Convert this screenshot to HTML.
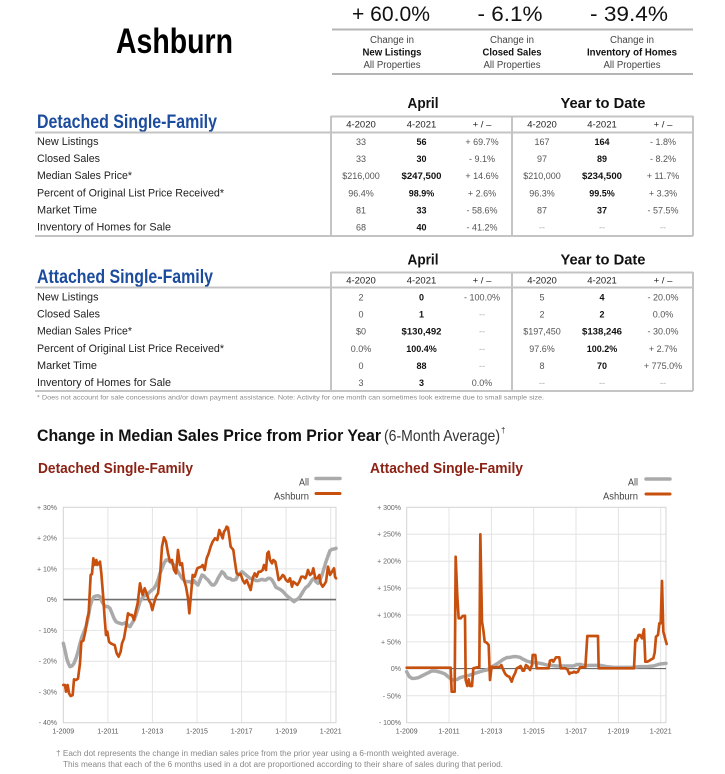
<!DOCTYPE html>
<html><head><meta charset="utf-8"><style>
html,body{margin:0;padding:0;background:#fff;}
body{width:725px;height:774px;overflow:hidden;}
svg{display:block;font-family:"Liberation Sans",Arial,sans-serif;}
</style></head><body>
<svg width="725" height="774" viewBox="0 0 725 774" xmlns="http://www.w3.org/2000/svg">
<rect width="725" height="774" fill="#fff"/>
<!-- Title -->
<text x="116" y="53" font-size="35" font-weight="bold" fill="#000" textLength="117" lengthAdjust="spacingAndGlyphs">Ashburn</text>
<!-- Top stats -->
<g fill="#111" font-size="21" text-anchor="middle">
<text x="391" y="21" textLength="78" lengthAdjust="spacingAndGlyphs">+ 60.0%</text>
<text x="510" y="21" textLength="65" lengthAdjust="spacingAndGlyphs">- 6.1%</text>
<text x="629" y="21" textLength="78" lengthAdjust="spacingAndGlyphs">- 39.4%</text>
</g>
<line x1="332" y1="29.5" x2="693" y2="29.5" stroke="#b5b5b5" stroke-width="2"/>
<g font-size="10" text-anchor="middle" fill="#444">
<text x="392" y="43" textLength="44" lengthAdjust="spacingAndGlyphs">Change in</text>
<text x="392" y="55.5" font-weight="bold" fill="#111" textLength="59" lengthAdjust="spacingAndGlyphs">New Listings</text>
<text x="392" y="68" textLength="57" lengthAdjust="spacingAndGlyphs">All Properties</text>
<text x="512" y="43" textLength="44" lengthAdjust="spacingAndGlyphs">Change in</text>
<text x="512" y="55.5" font-weight="bold" fill="#111" textLength="59" lengthAdjust="spacingAndGlyphs">Closed Sales</text>
<text x="512" y="68" textLength="57" lengthAdjust="spacingAndGlyphs">All Properties</text>
<text x="632" y="43" textLength="44" lengthAdjust="spacingAndGlyphs">Change in</text>
<text x="632" y="55.5" font-weight="bold" fill="#111" textLength="90" lengthAdjust="spacingAndGlyphs">Inventory of Homes</text>
<text x="632" y="68" textLength="57" lengthAdjust="spacingAndGlyphs">All Properties</text>
</g>
<line x1="332" y1="74" x2="693" y2="74" stroke="#b5b5b5" stroke-width="2"/>

<!-- TABLE 1 -->
<g font-size="15" font-weight="bold" fill="#111" text-anchor="middle">
<text x="423" y="108" textLength="31" lengthAdjust="spacingAndGlyphs">April</text>
<text x="603" y="108" textLength="85" lengthAdjust="spacingAndGlyphs">Year to Date</text>
</g>
<text x="37" y="128" font-size="19" font-weight="bold" fill="#1c4c9e" textLength="180" lengthAdjust="spacingAndGlyphs">Detached Single-Family</text>
<g stroke="#c4c4c4" stroke-width="2" fill="none">
<line x1="331" y1="116.5" x2="693" y2="116.5"/>
<line x1="35" y1="132.5" x2="693" y2="132.5"/>
<line x1="331" y1="116" x2="331" y2="236"/>
<line x1="512" y1="116" x2="512" y2="236"/>
<line x1="693" y1="116" x2="693" y2="236"/>
<line x1="35" y1="236" x2="693" y2="236"/>
</g>
<g font-size="9.5" text-anchor="middle" fill="#222">
<text x="361" y="127.5">4-2020</text><text x="421.5" y="127.5">4-2021</text><text x="482" y="127.5">+ / –</text>
<text x="542" y="127.5">4-2020</text><text x="602" y="127.5">4-2021</text><text x="663" y="127.5">+ / –</text>
</g>
<g font-size="11" fill="#222">
<text x="37" y="145" textLength="61.5" lengthAdjust="spacingAndGlyphs">New Listings</text>
<text x="37" y="162.1" textLength="63" lengthAdjust="spacingAndGlyphs">Closed Sales</text>
<text x="37" y="179.2" textLength="95" lengthAdjust="spacingAndGlyphs">Median Sales Price*</text>
<text x="37" y="196.3" textLength="187" lengthAdjust="spacingAndGlyphs">Percent of Original List Price Received*</text>
<text x="37" y="213.4" textLength="60" lengthAdjust="spacingAndGlyphs">Market Time</text>
<text x="37" y="230.5" textLength="134" lengthAdjust="spacingAndGlyphs">Inventory of Homes for Sale</text>
</g>
<g font-size="9" text-anchor="middle" fill="#555">
<text x="361" y="145">33</text><text x="482" y="145">+ 69.7%</text><text x="542" y="145">167</text><text x="663" y="145">- 1.8%</text>
<text x="361" y="162.1">33</text><text x="482" y="162.1">- 9.1%</text><text x="542" y="162.1">97</text><text x="663" y="162.1">- 8.2%</text>
<text x="361" y="179.2">$216,000</text><text x="482" y="179.2">+ 14.6%</text><text x="542" y="179.2">$210,000</text><text x="663" y="179.2">+ 11.7%</text>
<text x="361" y="196.3">96.4%</text><text x="482" y="196.3">+ 2.6%</text><text x="542" y="196.3">96.3%</text><text x="663" y="196.3">+ 3.3%</text>
<text x="361" y="213.4">81</text><text x="482" y="213.4">- 58.6%</text><text x="542" y="213.4">87</text><text x="663" y="213.4">- 57.5%</text>
<text x="361" y="230.5">68</text><text x="482" y="230.5">- 41.2%</text>
<text x="542" y="230.5" fill="#aaa">--</text><text x="602" y="230.5" fill="#aaa">--</text><text x="663" y="230.5" fill="#aaa">--</text>
</g>
<g font-size="9" text-anchor="middle" fill="#111" font-weight="bold">
<text x="421.5" y="145">56</text><text x="602" y="145">164</text>
<text x="421.5" y="162.1">30</text><text x="602" y="162.1">89</text>
<text x="421.5" y="179.2" textLength="40" lengthAdjust="spacingAndGlyphs">$247,500</text><text x="602" y="179.2" textLength="40" lengthAdjust="spacingAndGlyphs">$234,500</text>
<text x="421.5" y="196.3">98.9%</text><text x="602" y="196.3">99.5%</text>
<text x="421.5" y="213.4">33</text><text x="602" y="213.4">37</text>
<text x="421.5" y="230.5">40</text>
</g>

<!-- TABLE 2 -->
<g font-size="15" font-weight="bold" fill="#111" text-anchor="middle">
<text x="423" y="264.5" textLength="31" lengthAdjust="spacingAndGlyphs">April</text>
<text x="603" y="264.5" textLength="85" lengthAdjust="spacingAndGlyphs">Year to Date</text>
</g>
<text x="37" y="283" font-size="19" font-weight="bold" fill="#1c4c9e" textLength="176" lengthAdjust="spacingAndGlyphs">Attached Single-Family</text>
<g stroke="#c4c4c4" stroke-width="2" fill="none">
<line x1="331" y1="272.5" x2="693" y2="272.5"/>
<line x1="35" y1="287.5" x2="693" y2="287.5"/>
<line x1="331" y1="272" x2="331" y2="391"/>
<line x1="512" y1="272" x2="512" y2="391"/>
<line x1="693" y1="272" x2="693" y2="391"/>
<line x1="35" y1="391" x2="693" y2="391"/>
</g>
<g font-size="9.5" text-anchor="middle" fill="#222">
<text x="361" y="283.5">4-2020</text><text x="421.5" y="283.5">4-2021</text><text x="482" y="283.5">+ / –</text>
<text x="542" y="283.5">4-2020</text><text x="602" y="283.5">4-2021</text><text x="663" y="283.5">+ / –</text>
</g>
<g font-size="11" fill="#222">
<text x="37" y="300.5" textLength="61.5" lengthAdjust="spacingAndGlyphs">New Listings</text>
<text x="37" y="317.6" textLength="63" lengthAdjust="spacingAndGlyphs">Closed Sales</text>
<text x="37" y="334.7" textLength="95" lengthAdjust="spacingAndGlyphs">Median Sales Price*</text>
<text x="37" y="351.8" textLength="187" lengthAdjust="spacingAndGlyphs">Percent of Original List Price Received*</text>
<text x="37" y="368.9" textLength="60" lengthAdjust="spacingAndGlyphs">Market Time</text>
<text x="37" y="386" textLength="134" lengthAdjust="spacingAndGlyphs">Inventory of Homes for Sale</text>
</g>
<g font-size="9" text-anchor="middle" fill="#555">
<text x="361" y="300.5">2</text><text x="482" y="300.5">- 100.0%</text><text x="542" y="300.5">5</text><text x="663" y="300.5">- 20.0%</text>
<text x="361" y="317.6">0</text><text x="482" y="317.6" fill="#aaa">--</text><text x="542" y="317.6">2</text><text x="663" y="317.6">0.0%</text>
<text x="361" y="334.7">$0</text><text x="482" y="334.7" fill="#aaa">--</text><text x="542" y="334.7">$197,450</text><text x="663" y="334.7">- 30.0%</text>
<text x="361" y="351.8">0.0%</text><text x="482" y="351.8" fill="#aaa">--</text><text x="542" y="351.8">97.6%</text><text x="663" y="351.8">+ 2.7%</text>
<text x="361" y="368.9">0</text><text x="482" y="368.9" fill="#aaa">--</text><text x="542" y="368.9">8</text><text x="663" y="368.9">+ 775.0%</text>
<text x="361" y="386">3</text><text x="482" y="386">0.0%</text>
<text x="542" y="386" fill="#aaa">--</text><text x="602" y="386" fill="#aaa">--</text><text x="663" y="386" fill="#aaa">--</text>
</g>
<g font-size="9" text-anchor="middle" fill="#111" font-weight="bold">
<text x="421.5" y="300.5">0</text><text x="602" y="300.5">4</text>
<text x="421.5" y="317.6">1</text><text x="602" y="317.6">2</text>
<text x="421.5" y="334.7" textLength="40" lengthAdjust="spacingAndGlyphs">$130,492</text><text x="602" y="334.7" textLength="40" lengthAdjust="spacingAndGlyphs">$138,246</text>
<text x="421.5" y="351.8">100.4%</text><text x="602" y="351.8">100.2%</text>
<text x="421.5" y="368.9">88</text><text x="602" y="368.9">70</text>
<text x="421.5" y="386">3</text>
</g>
<text x="37" y="399.5" font-size="6.5" fill="#8a8a8a" textLength="507" lengthAdjust="spacingAndGlyphs">* Does not account for sale concessions and/or down payment assistance. Note: Activity for one month can sometimes look extreme due to small sample size.</text>

<!-- Section title -->
<text x="37" y="441" font-size="17" font-weight="bold" fill="#111" textLength="344" lengthAdjust="spacingAndGlyphs">Change in Median Sales Price from Prior Year</text>
<text x="384" y="441" font-size="16" fill="#333" textLength="116" lengthAdjust="spacingAndGlyphs">(6-Month Average)</text>
<text x="501" y="433" font-size="8" fill="#333">†</text>

<!-- LEFT CHART -->
<text x="38" y="473" font-size="15" font-weight="bold" fill="#8c2214" textLength="155" lengthAdjust="spacingAndGlyphs">Detached Single-Family</text>
<text x="309" y="485.5" font-size="10" fill="#444" text-anchor="end" textLength="10" lengthAdjust="spacingAndGlyphs">All</text>
<text x="309" y="499.5" font-size="10" fill="#444" text-anchor="end" textLength="35" lengthAdjust="spacingAndGlyphs">Ashburn</text>
<line x1="316" y1="478.5" x2="340" y2="478.5" stroke="#aaa" stroke-width="3.5" stroke-linecap="round"/>
<line x1="316" y1="493.5" x2="340" y2="493.5" stroke="#c8500e" stroke-width="3" stroke-linecap="round"/>
<g stroke="#e4e4e4" stroke-width="1">
<line x1="63.3" y1="538.1" x2="336" y2="538.1"/>
<line x1="63.3" y1="568.9" x2="336" y2="568.9"/>
<line x1="63.3" y1="630.4" x2="336" y2="630.4"/>
<line x1="63.3" y1="661.2" x2="336" y2="661.2"/>
<line x1="63.3" y1="691.9" x2="336" y2="691.9"/>
<line x1="107.9" y1="507.3" x2="107.9" y2="722.7"/>
<line x1="152.4" y1="507.3" x2="152.4" y2="722.7"/>
<line x1="197" y1="507.3" x2="197" y2="722.7"/>
<line x1="241.6" y1="507.3" x2="241.6" y2="722.7"/>
<line x1="286.1" y1="507.3" x2="286.1" y2="722.7"/>
<line x1="330.7" y1="507.3" x2="330.7" y2="722.7"/>
</g>
<rect x="63.3" y="507.3" width="272.7" height="215.4" fill="none" stroke="#d4d4d4" stroke-width="1"/>
<line x1="63.3" y1="599.6" x2="336" y2="599.6" stroke="#6e6e6e" stroke-width="1.6"/>
<g font-size="7" fill="#666" text-anchor="end">
<text x="57" y="509.8">+ 30%</text><text x="57" y="540.6">+ 20%</text><text x="57" y="571.4">+ 10%</text><text x="57" y="602.1">0%</text>
<text x="57" y="632.9">- 10%</text><text x="57" y="663.7">- 20%</text><text x="57" y="694.4">- 30%</text><text x="57" y="725.2">- 40%</text>
</g>
<g font-size="7" fill="#555" text-anchor="middle">
<text x="63.3" y="733.5">1-2009</text><text x="107.9" y="733.5">1-2011</text><text x="152.4" y="733.5">1-2013</text><text x="197" y="733.5">1-2015</text>
<text x="241.6" y="733.5">1-2017</text><text x="286.1" y="733.5">1-2019</text><text x="330.7" y="733.5">1-2021</text>
</g>
<g transform="translate(0,450) scale(0.33333)" fill="none" stroke-linejoin="round" stroke-linecap="round">
<polyline stroke="#aaaaaa" stroke-width="10.5" points="190,580 196,605 200,625 205,640 210,650 216,648 222,640 228,625 234,605 240,580 246,560 252,545 258,530 264,505 270,470 276,450 282,440 288,438 294,437 300,440 306,455 312,465 318,470 324,470 330,475 336,490 342,505 348,515 354,518 360,520 366,522 372,520 378,518 384,528 390,530 396,520 402,510 408,495 414,475 420,455 426,445 432,438 438,435 444,432 450,425 456,420 462,415 468,405 474,390 480,370 486,355 492,340 498,330 504,330 510,335 516,340 522,345 528,355 534,365 540,375 546,385 552,390 558,395 564,395 570,395 576,400 582,392 588,400 594,405 600,390 606,375 612,378 618,385 624,390 630,398 636,405 642,405 648,398 654,385 660,375 666,365 672,370 678,380 684,385 690,385 696,390 702,390 708,388 714,375 720,370 726,365 732,370 738,375 744,380 750,385 756,385 762,388 768,392 774,392 780,390 786,388 792,390 798,390 804,385 810,385 816,390 822,400 828,412 834,415 840,418 846,422 852,428 858,435 864,440 870,445 876,450 882,455 888,450 894,447 900,440 906,430 912,420 918,412 924,408 930,400 936,390 942,385 948,395 954,400 960,390 966,375 972,355 978,335 984,318 990,302 996,298 1002,297 1008,295"/>
<polyline stroke="#c8500e" stroke-width="8" points="190,705 195,705 198,725 203,705 207,730 212,738 218,735 222,688 228,690 234,686 240,640 244,575 250,572 256,545 262,505 266,490 272,375 276,372 280,325 284,345 289,330 292,345 296,340 300,335 304,370 310,445 314,505 318,555 322,545 327,575 332,580 338,583 344,585 350,610 356,620 362,605 366,580 372,565 378,530 384,490 390,495 396,495 402,510 407,485 413,460 420,400 424,420 428,435 434,415 440,430 446,450 452,460 457,480 462,460 468,440 474,430 480,380 486,290 492,262 498,275 504,310 510,335 516,330 522,360 528,370 534,300 540,345 546,340 552,390 558,410 564,445 568,490 572,445 578,375 584,380 592,355 598,352 604,350 608,345 614,360 620,325 626,310 632,290 638,275 645,265 652,270 658,240 662,250 668,265 672,245 676,240 680,230 684,233 688,260 692,290 696,295 700,300 704,330 710,370 716,375 722,372 728,390 734,400 740,390 746,405 752,420 758,385 764,370 770,380 776,365 782,365 788,360 792,345 798,360 802,310 806,305 810,330 816,340 820,330 826,335 830,355 836,390 842,385 848,375 852,378 858,390 864,395 870,385 876,410 880,395 886,400 892,405 898,395 904,380 910,380 916,385 920,375 924,360 930,375 936,370 940,355 946,385 952,385 958,375 962,400 968,410 972,405 978,395 984,350 990,375 996,365 1002,355 1005,380 1008,385"/>
</g>

<!-- RIGHT CHART -->
<text x="370" y="473" font-size="15" font-weight="bold" fill="#8c2214" textLength="153" lengthAdjust="spacingAndGlyphs">Attached Single-Family</text>
<text x="638" y="485.5" font-size="10" fill="#444" text-anchor="end" textLength="10" lengthAdjust="spacingAndGlyphs">All</text>
<text x="638" y="499.5" font-size="10" fill="#444" text-anchor="end" textLength="35" lengthAdjust="spacingAndGlyphs">Ashburn</text>
<line x1="646" y1="479" x2="670" y2="479" stroke="#aaa" stroke-width="3.5" stroke-linecap="round"/>
<line x1="646" y1="494" x2="670" y2="494" stroke="#c8500e" stroke-width="3" stroke-linecap="round"/>
<g stroke="#e4e4e4" stroke-width="1">
<line x1="406.7" y1="534.2" x2="666" y2="534.2"/>
<line x1="406.7" y1="561.2" x2="666" y2="561.2"/>
<line x1="406.7" y1="588.1" x2="666" y2="588.1"/>
<line x1="406.7" y1="615" x2="666" y2="615"/>
<line x1="406.7" y1="641.9" x2="666" y2="641.9"/>
<line x1="406.7" y1="695.8" x2="666" y2="695.8"/>
<line x1="449" y1="507.3" x2="449" y2="722.7"/>
<line x1="491.4" y1="507.3" x2="491.4" y2="722.7"/>
<line x1="533.7" y1="507.3" x2="533.7" y2="722.7"/>
<line x1="576" y1="507.3" x2="576" y2="722.7"/>
<line x1="618.4" y1="507.3" x2="618.4" y2="722.7"/>
<line x1="660.7" y1="507.3" x2="660.7" y2="722.7"/>
</g>
<rect x="406.7" y="507.3" width="259.3" height="215.4" fill="none" stroke="#d4d4d4" stroke-width="1"/>
<line x1="406.7" y1="668.6" x2="666" y2="668.6" stroke="#555" stroke-width="1"/>
<g font-size="7" fill="#666" text-anchor="end">
<text x="401" y="509.8">+ 300%</text><text x="401" y="536.7">+ 250%</text><text x="401" y="563.7">+ 200%</text><text x="401" y="590.6">+ 150%</text>
<text x="401" y="617.5">+ 100%</text><text x="401" y="644.4">+ 50%</text><text x="401" y="671.1">0%</text><text x="401" y="698.3">- 50%</text><text x="401" y="725.2">- 100%</text>
</g>
<g font-size="7" fill="#555" text-anchor="middle">
<text x="406.7" y="733.5">1-2009</text><text x="449" y="733.5">1-2011</text><text x="491.4" y="733.5">1-2013</text><text x="533.7" y="733.5">1-2015</text>
<text x="576" y="733.5">1-2017</text><text x="618.4" y="733.5">1-2019</text><text x="660.7" y="733.5">1-2021</text>
</g>
<g transform="translate(360,450) scale(0.33333)" fill="none" stroke-linejoin="round" stroke-linecap="round">
<polyline stroke="#aaaaaa" stroke-width="10.5" points="140,665 148,680 156,685 165,685 175,683 185,678 195,673 205,668 215,663 225,663 235,665 245,668 255,672 262,678 270,685 278,690 285,690 292,688 300,683 310,680 320,678 330,675 340,672 350,668 360,665 370,662 380,660 390,655 400,648 410,642 420,635 430,628 440,623 450,622 460,620 470,620 480,622 490,628 500,633 510,636 520,638 530,638 540,640 550,642 560,645 570,645 580,647 590,648 600,648 610,648 620,648 630,648 640,648 650,644 660,643 670,646 680,647 690,646 700,646 710,646 720,646 730,648 740,650 760,652 780,652 800,652 820,652 840,650 860,650 880,648 900,642 918,640"/>
<polyline stroke="#c8500e" stroke-width="8" points="140,653 272,653 275,725 284,725 287,320 292,440 296,505 302,505 308,498 315,497 317,690 322,708 326,688 330,708 336,708 340,655 352,652 358,652 361,253 366,515 370,540 374,575 380,578 386,585 390,690 395,650 400,652 410,652 420,650 424,645 430,660 436,672 442,678 448,680 455,695 460,680 466,668 470,655 476,652 482,648 488,662 492,662 498,645 504,650 510,660 516,645 518,615 526,615 530,655 540,655 552,655 566,655 570,632 576,630 580,635 588,622 598,622 602,655 616,655 622,658 628,672 632,668 638,668 642,665 648,668 654,665 660,652 666,652 676,652 682,558 695,558 708,558 714,558 716,655 730,655 760,655 800,655 822,655 826,570 830,572 836,555 840,555 846,565 852,538 856,635 862,635 868,632 874,628 880,625 884,608 888,560 894,555 898,520 902,520 906,393 910,545 914,560 920,582"/>
</g>

<!-- Footnote -->
<text x="56" y="756" font-size="8" fill="#888" textLength="403" lengthAdjust="spacingAndGlyphs">† Each dot represents the change in median sales price from the prior year using a 6-month weighted average.</text>
<text x="63" y="767" font-size="8" fill="#888" textLength="440" lengthAdjust="spacingAndGlyphs">This means that each of the 6 months used in a dot are proportioned according to their share of sales during that period.</text>
</svg>
</body></html>
